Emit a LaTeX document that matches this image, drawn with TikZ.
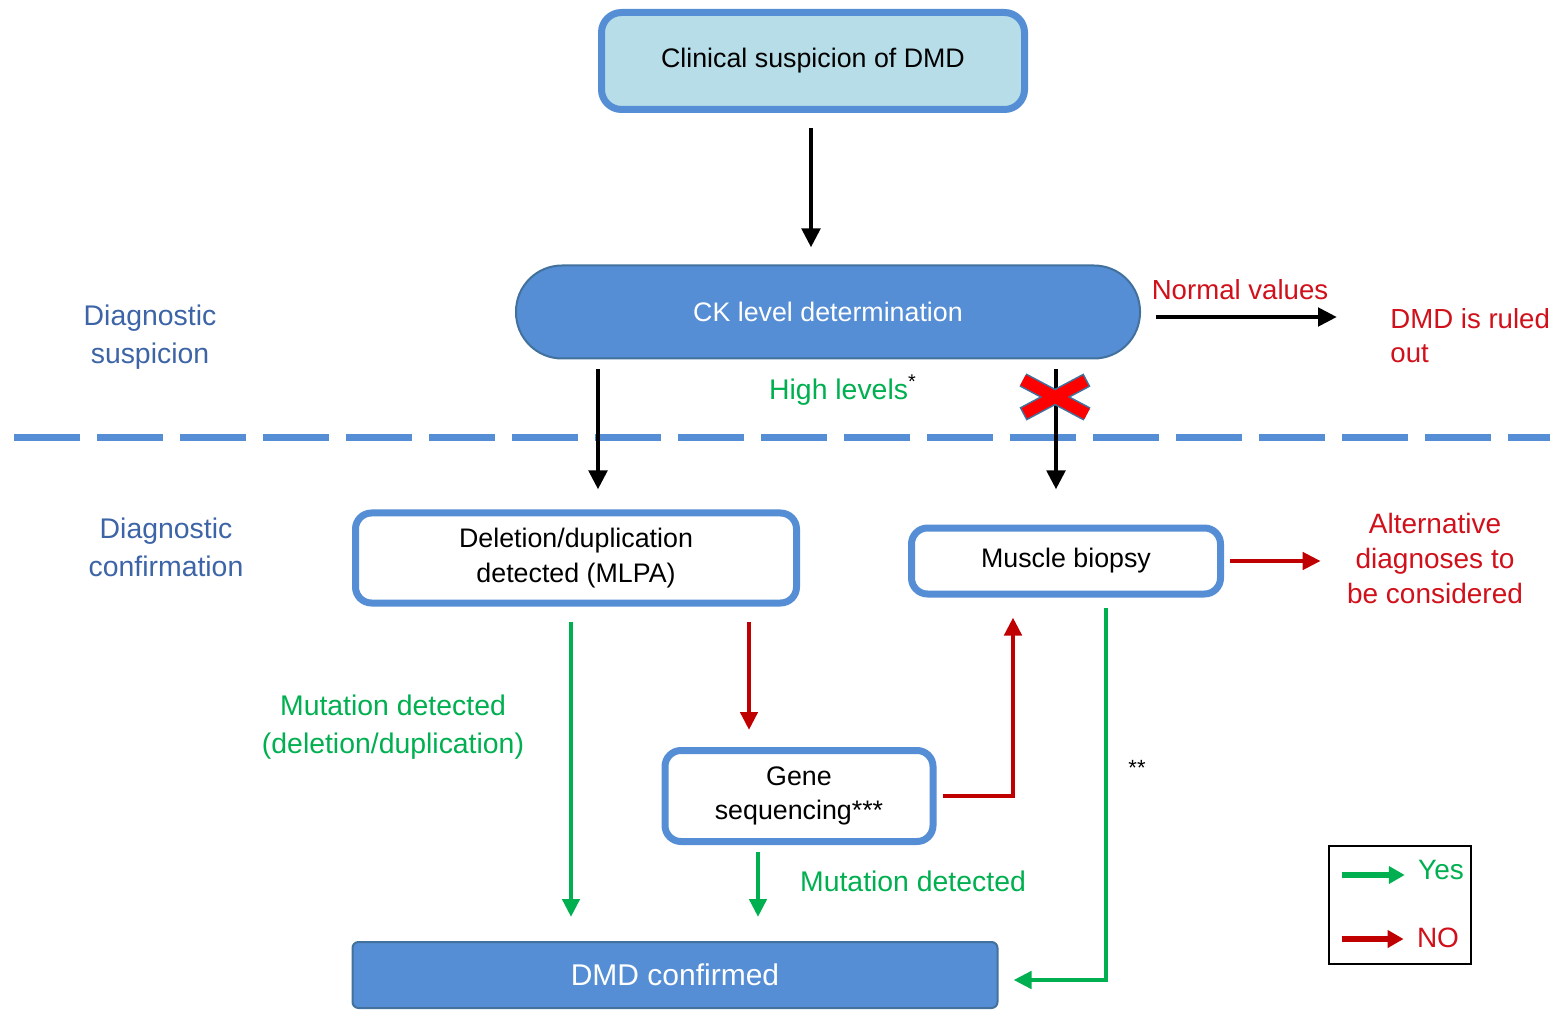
\documentclass[tikz,border=0pt]{standalone}
\usepackage{fontspec}
\setmainfont{Liberation Sans}
\usetikzlibrary{arrows.meta}

\definecolor{boxblue}{HTML}{558ED5}
\definecolor{edgeblue}{HTML}{41719C}
\definecolor{paleblue}{HTML}{B7DEE8}
\definecolor{stageblue}{HTML}{3C64A6}
\definecolor{yesgreen}{HTML}{00B050}
\definecolor{nored}{HTML}{C00000}
\definecolor{notext}{HTML}{D0101A}

\begin{document}
\begin{tikzpicture}[x=0.5pt,y=-0.5pt,
  every node/.style={inner sep=0pt},
  boxtxt/.style={font=\fontsize{13.4}{17.5}\selectfont,align=center},
  sidetxt/.style={font=\fontsize{14.2}{19}\selectfont,align=center},
  outlinebox/.style={draw=boxblue,line width=3.5pt,fill=white,rounded corners=8pt,boxtxt},
  filledbox/.style={draw=edgeblue,line width=1pt,fill=boxblue,text=white},
  blkarrow/.style={draw=black,line width=2.4pt,-{Triangle[length=9.5pt,width=9pt]}},
  grnarrow/.style={draw=yesgreen,line width=2.2pt,-{Triangle[length=9pt,width=8.5pt]}},
  redarrow/.style={draw=nored,line width=2.2pt,-{Triangle[length=9pt,width=8.5pt]}},
  legarrow/.style={line width=2.8pt,-{Triangle[length=8pt,width=8.5pt]}}]
\useasboundingbox (0,0) rectangle (1553,1010);

% Boxes
\node[outlinebox,fill=paleblue,rounded corners=10pt,minimum width=211.5pt,minimum height=48.5pt] (clin) at (813,61) {Clinical suspicion of DMD};
\node[filledbox,boxtxt,rounded corners=23pt,minimum width=312pt,minimum height=46.5pt] (ck) at (828,312) {CK level determination};
\node[outlinebox,minimum width=220.5pt,minimum height=45pt] (del) at (576,558) {Deletion/duplication\\detected (MLPA)};
\node[outlinebox,minimum width=154.5pt,minimum height=33pt] (mb) at (1066,561) {Muscle biopsy};
\node[outlinebox,font=\fontsize{13.4}{17}\selectfont,minimum width=134pt,minimum height=45.5pt] (gene) at (799,796) {Gene\\sequencing***};
\node[filledbox,font=\fontsize{15}{18}\selectfont,rounded corners=3pt,minimum width=322.5pt,minimum height=33pt] (conf) at (675,975) {DMD confirmed};

% Stage labels and outcomes
\node[sidetxt,text=stageblue] (susp) at (150,337) {Diagnostic\\suspicion};
\node[sidetxt,text=stageblue] (confirm) at (166,547) {Diagnostic\\confirmation};
\node[sidetxt,font=\fontsize{13.8}{17}\selectfont,text=notext] (normal) at (1240,290) {Normal values};
\node[sidetxt,font=\fontsize{13.8}{17}\selectfont,text=notext,align=left,anchor=west] (ruled) at (1390,336) {DMD is ruled\\out};
\node[sidetxt,text=yesgreen] (high) at (843,390) {High levels\textsuperscript{\color{black}*}};
\node[sidetxt,font=\fontsize{14}{17.5}\selectfont,text=notext] (alt) at (1435,558) {Alternative\\diagnoses to\\be considered};
\node[sidetxt,text=yesgreen] (mutdel) at (393,727) {Mutation detected\\(deletion/duplication)};
\node[sidetxt,text=yesgreen] (mutgene) at (913,881) {Mutation detected};
\node[font=\fontsize{11}{12}\selectfont] (twostar) at (1137,768) {**};

% Separator
\coordinate (sepl) at (14,438);
\coordinate (sepr) at (1550,438);
\draw[boxblue,line width=3.5pt,dash pattern=on 33pt off 8.5pt] (sepl) -- (sepr);

% Arrow columns
\coordinate (c1) at (811,0);
\coordinate (c2) at (598,0);
\coordinate (c3) at (1056,0);
\coordinate (c4) at (571,0);
\coordinate (c5) at (749,0);
\coordinate (c6) at (758,0);
\coordinate (c7) at (1013,0);
\coordinate (c8) at (1106,0);

% Suspicion stage
\draw[blkarrow,shorten <=7.5pt,shorten >=8.5pt] (clin.south -| c1) -- (ck.north -| c1);
\draw[blkarrow,shorten <=7.5pt,shorten >=26.5pt] ([yshift=-2.5pt]ck.east) -- ([yshift=-2.5pt]ck.east -| ruled.west);
\draw[blkarrow,shorten <=5pt,shorten >=10pt] (ck.south -| c2) -- (del.north -| c2);
\draw[blkarrow,shorten <=5pt,shorten >=17.5pt] (ck.south -| c3) -- (mb.north -| c3);

% Red cross
\coordinate (xa) at (1023,380);
\coordinate (xb) at (1087,414);
\coordinate (xc) at (1087,380);
\coordinate (xd) at (1023,414);
\draw[edgeblue,line width=7.4pt] (xa) -- (xb) (xc) -- (xd);
\draw[red,line width=5.8pt,shorten <=0.8pt,shorten >=0.8pt] (xa) -- (xb) (xc) -- (xd);

% Confirmation stage
\draw[redarrow,shorten <=3pt,shorten >=13pt] (mb.east) -- (mb.east -| alt.west);
\draw[grnarrow,shorten <=7.5pt,shorten >=12pt] (del.south -| c4) -- (conf.north -| c4);
\draw[redarrow,shorten <=7.5pt,shorten >=8.5pt] (del.south -| c5) -- (gene.north -| c5);
\draw[redarrow,shorten <=3pt,shorten >=10pt] (gene.east) -| (mb.south -| c7);
\draw[grnarrow,shorten <=3.5pt,shorten >=12pt] (gene.south -| c6) -- (conf.north -| c6);
\draw[grnarrow,shorten <=5pt,shorten >=7.5pt] (mb.south -| c8) |- ([yshift=-2.5pt]conf.east);

% Legend
\node[draw=black,line width=0.7pt,minimum width=71pt,minimum height=59pt] (legend) at (1400,905) {};
\node[sidetxt,font=\fontsize{14}{16}\selectfont,text=yesgreen] (yes) at (1441,870) {Yes};
\node[sidetxt,font=\fontsize{14}{16}\selectfont,text=notext] (no) at (1438,938) {NO};
\coordinate (lyes) at (1342,875);
\coordinate (lno) at (1342,939);
\draw[legarrow,yesgreen,shorten >=6.5pt] (lyes) -- (lyes -| yes.west);
\draw[legarrow,nored,shorten >=6.5pt] (lno) -- (lno -| no.west);
\end{tikzpicture}
\end{document}
